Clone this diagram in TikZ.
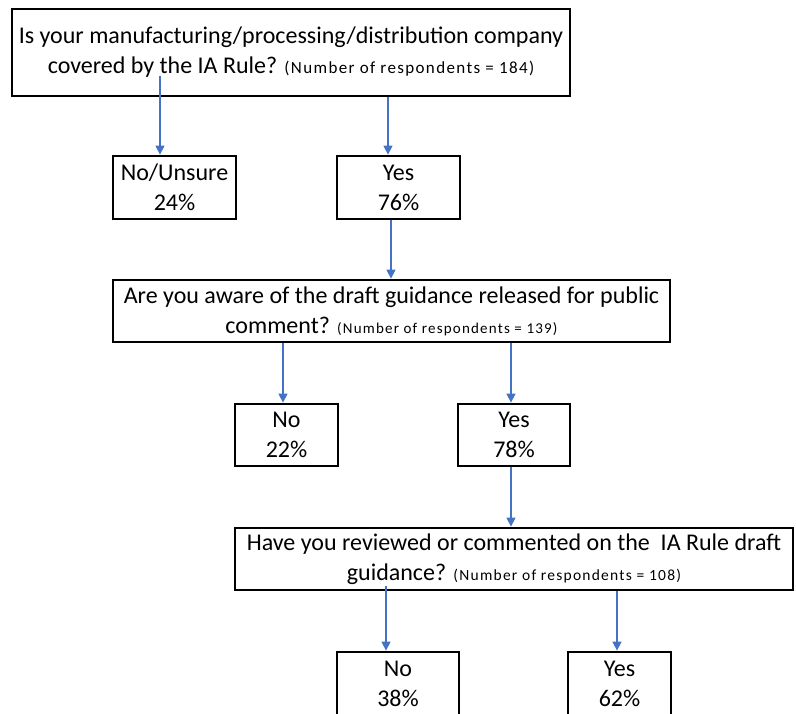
\documentclass[tikz,border=0pt]{standalone}
\usepackage{fontspec}
\setmainfont{Carlito}
\newfontfamily\respfont[LetterSpace=8]{Carlito}
\usepackage{xcolor}
\usepackage{tikz}
\usetikzlibrary{arrows.meta, positioning, calc}

\definecolor{arrowblue}{HTML}{4472C4}
\newcommand{\respondents}[2][15.5]{{\respfont\fontsize{#1}{18}\selectfont (Number of respondents = #2)}}

\begin{document}
\begin{tikzpicture}[
    x=1pt, y=-1pt,
    question/.style={draw, line width=2.8pt, rectangle, align=center, inner sep=0pt, font=\fontsize{24}{30}\selectfont},
    answer/.style={draw, line width=2.8pt, rectangle, align=center, inner sep=0pt, minimum height=62pt, font=\fontsize{24}{30}\selectfont},
    line/.style={draw, arrowblue, line width=1.4pt, -{Triangle[width=9pt, length=9pt]}}
]
    \useasboundingbox (0,0) rectangle (796,713);

    % Questions
    \node[question, minimum width=558pt, minimum height=87pt] (covered) at (291,52.5) {Is your manufacturing/processing/distribution company\\covered by the IA Rule? \respondents[17]{184}};
    \node[question, minimum width=557pt, minimum height=62pt] (aware) at (391.5,311) {Are you aware of the draft guidance released for public\\comment? \respondents[15]{139}};
    \node[question, minimum width=558pt, minimum height=62pt] (reviewed) at (514,559) {Have you reviewed or commented on the~ IA Rule draft\\guidance? \respondents{108}};

    % Answers
    \node[answer, minimum width=123pt, minimum height=63pt] (coveredNo) at (174.5,187.5) {No/Unsure\\24\%};
    \node[answer, minimum width=123pt, minimum height=63pt] (coveredYes) at (398.5,187.5) {Yes\\76\%};
    \node[answer, minimum width=103pt] (awareNo) at (286.5,435) {No\\22\%};
    \node[answer, minimum width=112pt] (awareYes) at (514,435) {Yes\\78\%};
    \node[answer, minimum width=122pt, minimum height=64pt] (reviewedNo) at (398,684) {No\\38\%};
    \node[answer, minimum width=103pt, minimum height=64pt] (reviewedYes) at (619.5,684) {Yes\\62\%};

    % Lines
    \draw[line] ([xshift=-14.5pt, yshift=21pt]coveredNo.north |- covered.south) -- ([xshift=-14.5pt]coveredNo.north);
    \draw[line] ([xshift=-10.5pt]coveredYes.north |- covered.south) -- ([xshift=-10.5pt]coveredYes.north);
    \draw[line] ([xshift=-7.5pt]coveredYes.south) -- ([xshift=-7.5pt]coveredYes.south |- aware.north);
    \draw[line] ([xshift=-3.5pt]awareNo.north |- aware.south) -- ([xshift=-3.5pt]awareNo.north);
    \draw[line] ([xshift=-3pt]awareYes.north |- aware.south) -- ([xshift=-3pt]awareYes.north);
    \draw[line] ([xshift=-3pt]awareYes.south) -- ([xshift=-3pt]awareYes.south |- reviewed.north);
    \draw[line] ([xshift=-12pt, yshift=5pt]reviewedNo.north |- reviewed.south) -- ([xshift=-12pt]reviewedNo.north);
    \draw[line] ([xshift=-2.5pt]reviewedYes.north |- reviewed.south) -- ([xshift=-2.5pt]reviewedYes.north);

\end{tikzpicture}
\end{document}
